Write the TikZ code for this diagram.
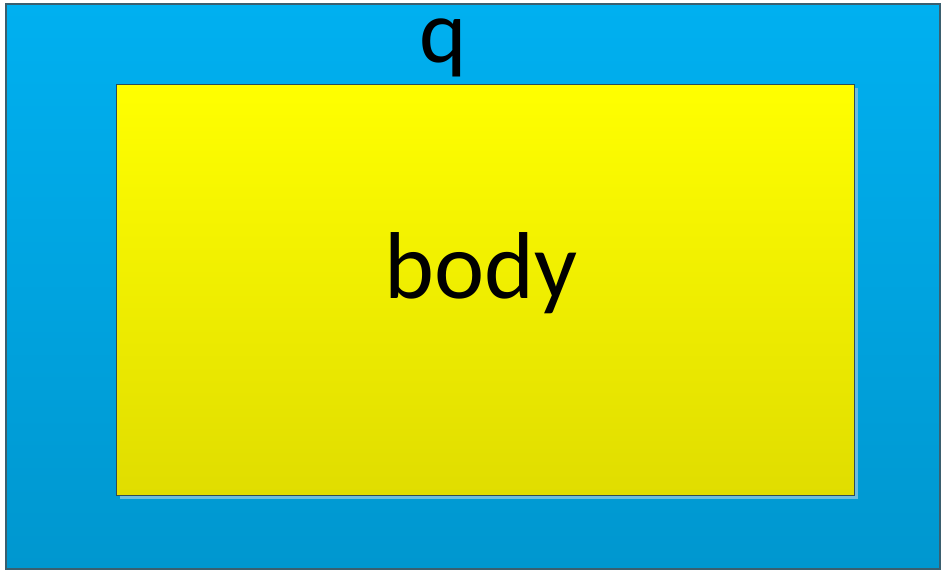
\documentclass[tikz,border=0pt]{standalone}
\usepackage{fontspec}
\setmainfont{Carlito}
\definecolor{bluetop}{HTML}{00B0F0}
\definecolor{bluebot}{HTML}{0097CF}
\definecolor{yeltop}{HTML}{FFFF00}
\definecolor{yelbot}{HTML}{E0DD00}
\definecolor{edge}{HTML}{3A5F6F}
\definecolor{shadowc}{HTML}{6BBCE0}
\begin{document}
\begin{tikzpicture}[x=1pt,y=-1pt,
  lbl/.style={text=black, anchor=base, inner sep=0pt}]
\useasboundingbox (0,0) rectangle (944,571);
\fill[white] (0,0) rectangle (944,571);
\shade[top color=bluetop, bottom color=bluebot, draw=edge, line width=1.2pt] (6,4) rectangle (940,569);
\fill[shadowc] (120,88) rectangle (858,499);
\shade[top color=yeltop, bottom color=yelbot, draw=edge!80!black, line width=1pt] (116,84) rectangle (854,495);
\node[lbl, font=\fontsize{90}{90}\selectfont, text height=46pt, text depth=16pt] (q) at (443,62) {q};
\node[lbl, font=\fontsize{95}{95}\selectfont] (body) at (481,298) {body};
\end{tikzpicture}
\end{document}
